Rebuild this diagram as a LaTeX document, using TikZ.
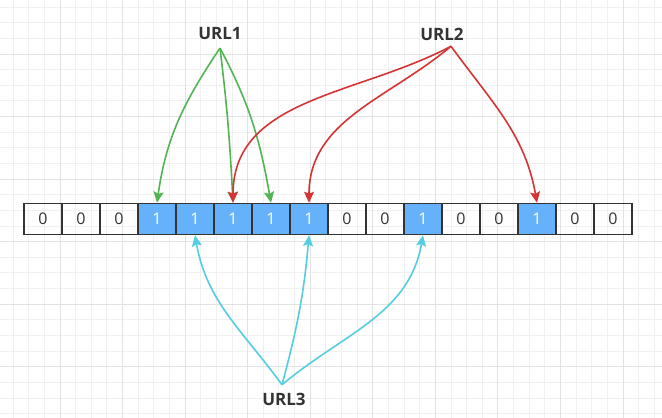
\documentclass[tikz,border=0pt]{standalone}
\usepackage{fontspec}
\setmainfont{Open Sans}
\usetikzlibrary{arrows.meta}
\definecolor{bitblue}{RGB}{102,178,250}
\definecolor{urlgreen}{RGB}{82,180,82}
\definecolor{urlred}{RGB}{214,52,52}
\definecolor{urlcyan}{RGB}{84,206,224}
\definecolor{ink}{RGB}{51,51,51}
\definecolor{gridminor}{RGB}{240,240,240}
\definecolor{gridmajor}{RGB}{226,226,226}

\begin{document}
\begin{tikzpicture}[x=1pt,y=1pt,>={Stealth[length=11pt,width=10pt,inset=2pt]},
  cell/.style={draw=ink,line width=1.5pt,minimum width=38pt,minimum height=31pt,inner sep=0pt,font=\fontsize{16}{16}\selectfont,text=ink},
  setcell/.style={cell,fill=bitblue,text=white},
  url/.style={font=\fontsize{17}{17}\selectfont\bfseries,text=ink,inner sep=1pt,outer sep=7pt},
  hash/.style={->,line width=1.6pt}]
\useasboundingbox (0,0) rectangle (662,-418);
\fill[white] (0,0) rectangle (662,-418);
\foreach \i in {0,...,41} \draw[gridminor,line width=1pt] ({13.08+15.64*\i},0) -- ({13.08+15.64*\i},-418);
\foreach \j in {0,...,26} \draw[gridminor,line width=1pt] (0,{-7.08-15.64*\j}) -- (662,{-7.08-15.64*\j});
\foreach \i in {0,...,9} \draw[gridmajor,line width=1pt] ({60+62.56*\i},0) -- ({60+62.56*\i},-418);
\foreach \j in {0,...,5} \draw[gridmajor,line width=1pt] (0,{-54-62.56*\j}) -- (662,{-54-62.56*\j});
\node[cell] (c0) at (43,-219) {0};
\node[cell] (c1) at (81,-219) {0};
\node[cell] (c2) at (119,-219) {0};
\node[setcell] (c3) at (157,-219) {1};
\node[setcell] (c4) at (195,-219) {1};
\node[setcell] (c5) at (233,-219) {1};
\node[setcell] (c6) at (271,-219) {1};
\node[setcell] (c7) at (309,-219) {1};
\node[cell] (c8) at (347,-219) {0};
\node[cell] (c9) at (385,-219) {0};
\node[setcell] (c10) at (423,-219) {1};
\node[cell] (c11) at (461,-219) {0};
\node[cell] (c12) at (499,-219) {0};
\node[setcell] (c13) at (537,-219) {1};
\node[cell] (c14) at (575,-219) {0};
\node[cell] (c15) at (613,-219) {0};
\node[url] (u1) at (220,-34) {URL1};
\node[url] (u2) at (442,-34.5) {URL2};
\node[url] (u3) at (284,-399) {URL3};
\draw[hash,urlgreen] (u1.south) to[out=-124,in=82] (c3.north);
\draw[hash,urlgreen] (u1.south) to[out=-83,in=93] (c5.north);
\draw[hash,urlgreen] (u1.south) to[out=-62,in=100] (c6.north);
\draw[hash,urlred] ([xshift=9pt,yshift=2.5pt]u2.south) to[out=-152,in=90] (c5.north);
\draw[hash,urlred] ([xshift=9pt,yshift=2.5pt]u2.south) to[out=-140,in=90] (c7.north);
\draw[hash,urlred] ([xshift=9pt,yshift=2.5pt]u2.south) to[out=-54,in=100] (c13.north);
\draw[hash,urlcyan] ([xshift=-2pt]u3.north) to[out=126,in=-80] (c4.south);
\draw[hash,urlcyan] ([xshift=-2pt]u3.north) to[out=75,in=-95] (c7.south);
\draw[hash,urlcyan] ([xshift=-2pt]u3.north) to[out=40,in=-100] (c10.south);
\end{tikzpicture}
\end{document}
